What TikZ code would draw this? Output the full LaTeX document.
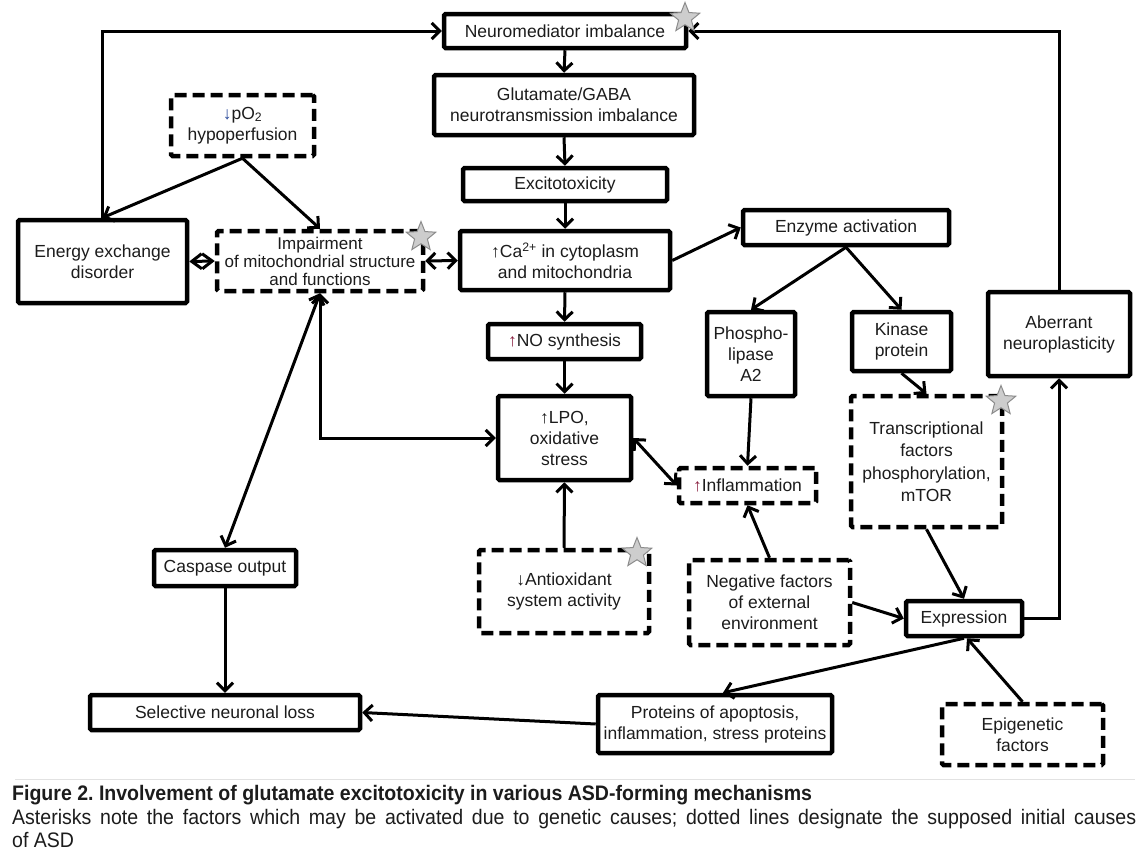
\documentclass[tikz,border=0pt]{standalone}
\usepackage{fontspec}
\setmainfont{Liberation Sans}
\newfontfamily\capfont[FakeStretch=0.93]{Liberation Sans}
\usetikzlibrary{arrows.meta,shapes.geometric,calc}
\definecolor{txt}{HTML}{1C1C1C}
\definecolor{upred}{HTML}{8A2040}
\definecolor{dnblue}{HTML}{2A4A9A}
\definecolor{stargray}{HTML}{CDCDCD}
\definecolor{starline}{HTML}{8C8C8C}
\definecolor{rulegray}{HTML}{E2E2E2}
\frenchspacing
\begin{document}
\begin{tikzpicture}[x=1pt,y=-1pt,
  box/.style={draw=black, line width=4.5pt, rounded corners=1.5pt, align=center, inner sep=0pt, outer sep=2.25pt, text=txt, font=\fontsize{17.5}{21}\selectfont},
  dbox/.style={box, dash pattern=on 12pt off 6pt},
  conn/.style={line width=3pt, -{Straight Barb[length=8pt,width=16pt]}},
  conn2/.style={line width=3pt, {Straight Barb[length=8pt,width=16pt]}-{Straight Barb[length=8pt,width=16pt]}},
  conn3/.style={line width=3pt, {Straight Barb[length=10pt,width=15pt]}-{Straight Barb[length=10pt,width=15pt]}},
  gstar/.style={star, star points=5, star point ratio=2.3, minimum size=31pt, inner sep=0pt, outer sep=0pt, fill=stargray, draw=starline, line width=1pt},
]
\fill[white] (0,0) rectangle (1148,862);
\useasboundingbox (0,0) rectangle (1148,862);

% nodes
\node[box, minimum width=242pt, minimum height=34pt] (neuro) at (565,31) {Neuromediator imbalance};
\node[box, minimum width=260pt, minimum height=60pt] (gaba) at (564,105) {Glutamate/GABA\\neurotransmission imbalance};
\node[box, minimum width=204pt, minimum height=33pt] (excit) at (565,184.5) {Excitotoxicity};
\node[box, minimum width=210pt, minimum height=59pt] (ca) at (565,260.5) {↑Ca\textsuperscript{2+} in cytoplasm\\and mitochondria};
\node[box, minimum width=206pt, minimum height=35pt] (enzyme) at (846,227.5) {Enzyme activation};
\node[box, minimum width=88pt, minimum height=84pt] (phospho) at (751,354) {Phospho-\\lipase\\A2};
\node[box, minimum width=99pt, minimum height=59pt] (kinase) at (901.5,341.5) {Kinase\\protein};
\node[box, minimum width=142pt, minimum height=84pt] (aberrant) at (1059,334) {Aberrant\\neuroplasticity};
\node[box, minimum width=169pt, minimum height=83pt] (energy) at (102.5,261.5) {Energy exchange\\disorder};
\node[dbox, minimum width=143pt, minimum height=61pt] (po2) at (242.5,125.5) {{\color{dnblue}↓}pO\textsubscript{2}\\hypoperfusion};
\node[dbox, minimum width=206pt, minimum height=60pt, font=\fontsize{17}{18}\selectfont] (impair) at (320,261) {Impairment\\of mitochondrial structure\\and functions};
\node[box, minimum width=153pt, minimum height=35pt] (no) at (564.5,341.5) {{\color{upred}↑}NO synthesis};
\node[box, minimum width=133pt, minimum height=84pt] (lpo) at (564.5,438) {↑LPO,\\oxidative\\stress};
\node[dbox, minimum width=137pt, minimum height=35pt] (inflam) at (747.5,485.5) {{\color{upred}↑}Inflammation};
\node[dbox, minimum width=170pt, minimum height=83pt] (antiox) at (564,591.5) {↓Antioxidant\\system activity};
\node[dbox, minimum width=161pt, minimum height=85pt] (negf) at (769.5,602.5) {Negative factors\\of external\\environment};
\node[dbox, minimum width=151pt, minimum height=131pt, font=\fontsize{17.5}{22.5}\selectfont] (transc) at (926.5,461.5) {Transcriptional\\factors\\phosphorylation,\\mTOR};
\node[box, minimum width=116pt, minimum height=35pt] (expr) at (964,618.5) {Expression};
\node[box, minimum width=142pt, minimum height=36pt] (casp) at (225,568) {Caspase output};
\node[box, minimum width=270pt, minimum height=35pt] (sel) at (225,712.5) {Selective neuronal loss};
\node[box, minimum width=234pt, minimum height=58pt] (prot) at (715,724) {Proteins of apoptosis,\\inflammation, stress proteins};
\node[dbox, minimum width=161pt, minimum height=61pt] (epi) at (1022.5,734.5) {Epigenetic\\factors};

% connectors
\draw[conn] (energy.north) |- (neuro.west);
\draw[conn] (aberrant.north) |- (neuro.east);
\draw[conn] (neuro.south) -- (gaba.north);
\draw[conn] (gaba.south) -- (excit.north);
\draw[conn] (excit.south) -- (ca.north);
\draw[conn] (ca.south) -- (no.north);
\draw[conn] (no.south) -- (lpo.north);
\draw[conn] (po2.south) -- (energy.north);
\draw[conn] (po2.south) -- (impair.north);
\draw[conn3] (energy.east) -- (impair.west);
\draw[conn2] (impair.east) -- (ca.west);
\draw[conn] (ca.east) -- (enzyme.west);
\draw[conn] (enzyme.south) -- (phospho.north);
\draw[conn] (enzyme.south) -- (kinase.north);
\draw[conn] (kinase.south) -- (transc.north);
\draw[conn] (phospho.south) -- (inflam.north);
\draw[conn] (negf.north) -- (inflam.south);
\draw[conn2] (lpo.east) -- (inflam.west);
\draw[conn] (antiox.north) -- (lpo.south);
\draw[conn2] (lpo.west) -| (impair.south);
\draw[conn2] (impair.south) -- (casp.north);
\draw[conn] (casp.south) -- (sel.north);
\draw[conn] (prot.west) -- (sel.east);
\draw[conn] (expr.south) -- ($(prot.north)+(8,0)$);
\draw[conn] (epi.north) -- ($(expr.south)+(3,0)$);
\draw[conn] (negf.east) -- (expr.west);
\draw[conn] (transc.south) -- (expr.north);
\draw[conn] (expr.east) -| (aberrant.south);

% stars
\node[gstar] (s1) at (685,18) {};
\node[gstar] (s2) at (421,237) {};
\node[gstar] (s3) at (637,553) {};
\node[gstar] (s4) at (1001,401) {};

% caption
\draw[rulegray, line width=1pt] (15,779) -- (1135,779);
\node[anchor=west, inner sep=0pt, text=txt, font=\capfont\bfseries\fontsize{21}{23}\selectfont] (cap1) at (12,795) {Figure 2. Involvement of glutamate excitotoxicity in various ASD-forming mechanisms};
\node[anchor=north west, inner sep=0pt, text width=1124pt, align=justify, text=txt, font=\capfont\fontsize{21}{23.5}\selectfont] (cap2) at (12,809) {Asterisks note the factors which may be activated due to genetic causes; dotted lines designate the supposed initial causes\linebreak of ASD};
\end{tikzpicture}
\end{document}
